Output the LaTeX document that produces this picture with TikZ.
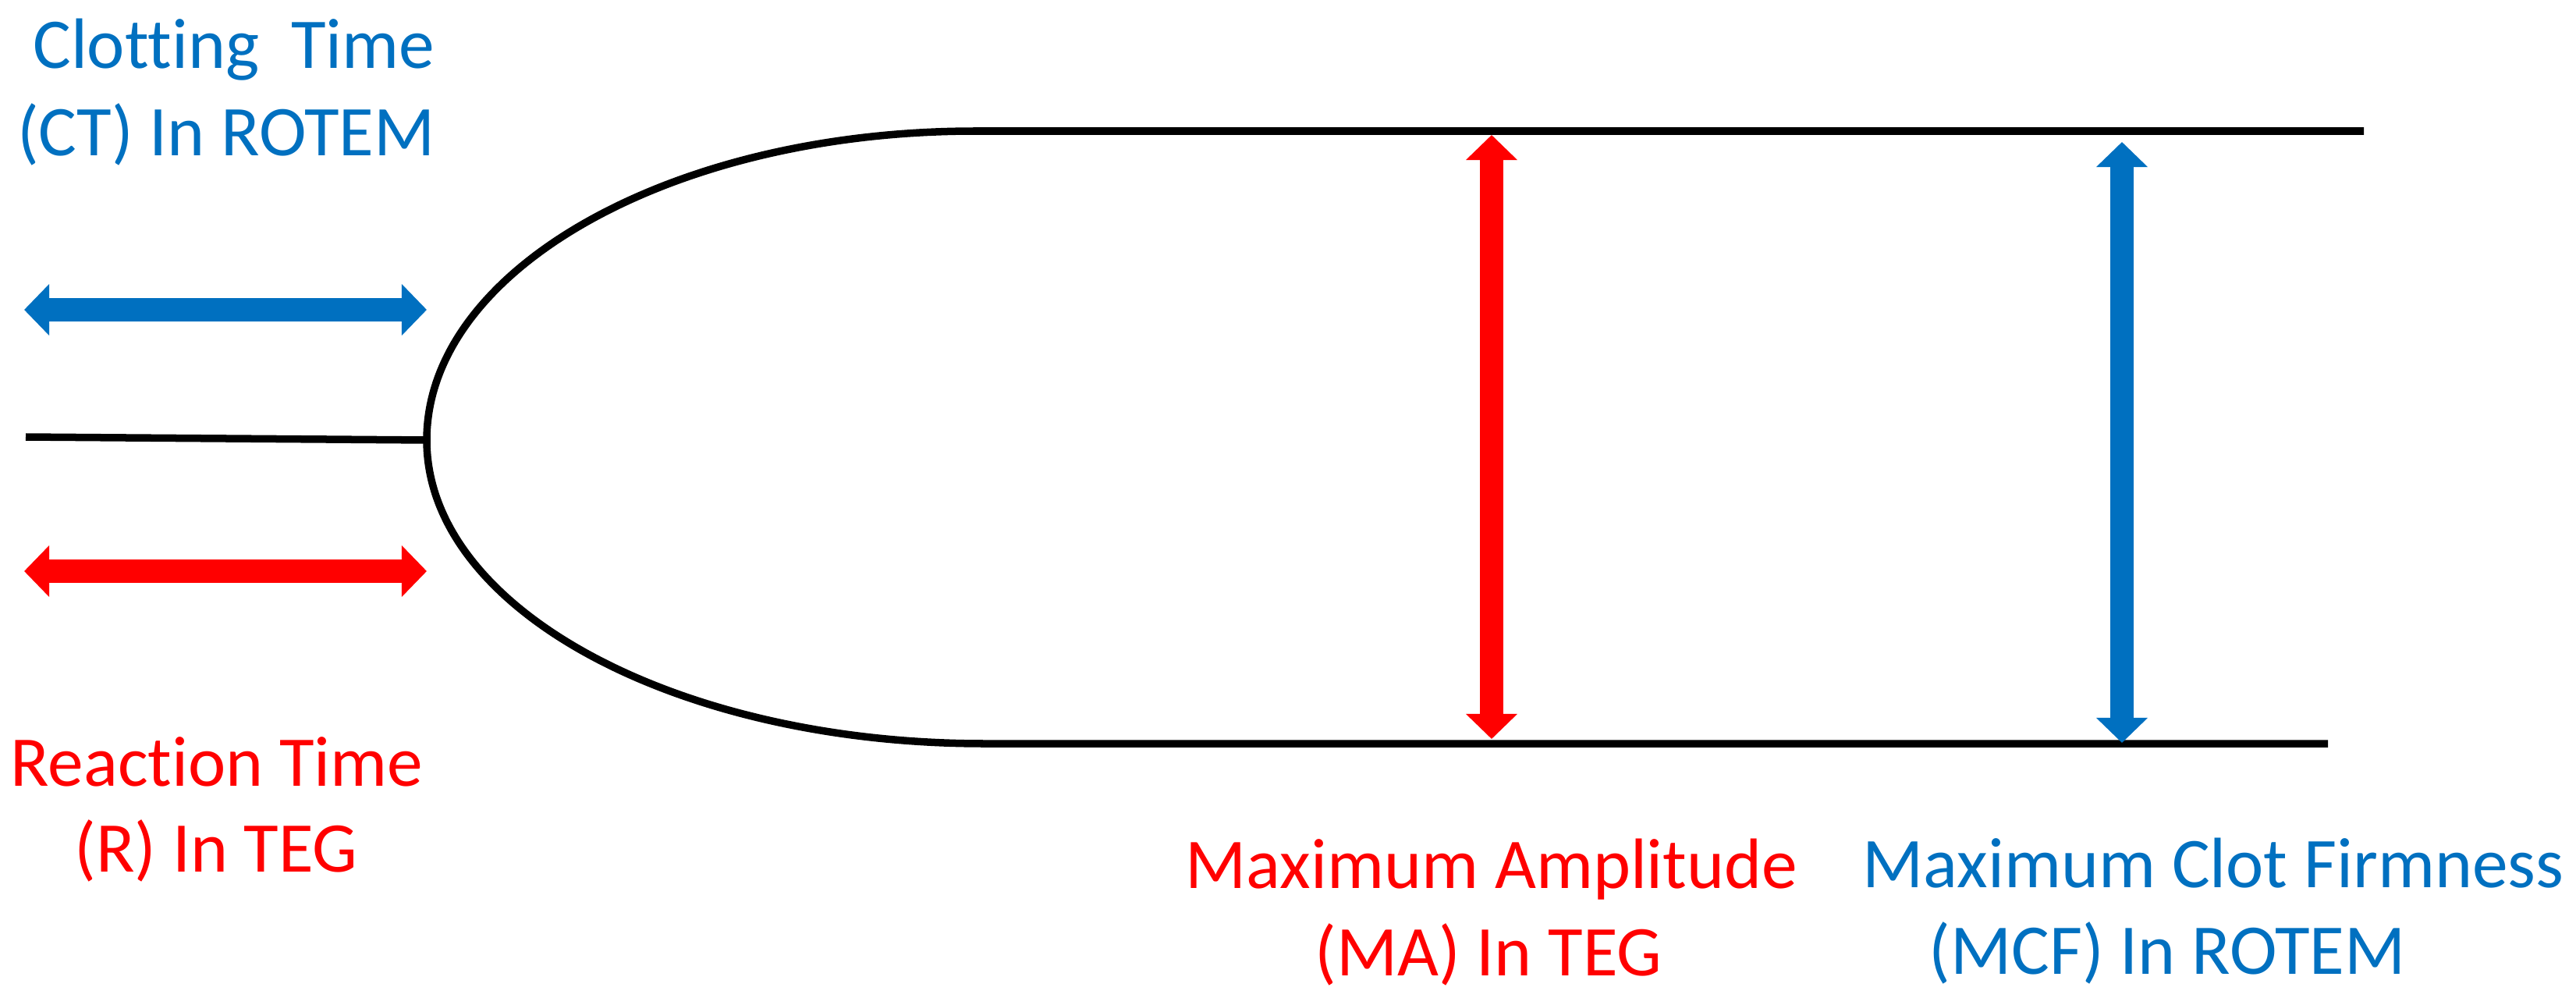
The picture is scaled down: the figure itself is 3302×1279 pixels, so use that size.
\documentclass[tikz,border=0pt]{standalone}
\usepackage{fontspec}
\setmainfont[Ligatures={NoCommon}]{Carlito}
\usetikzlibrary{arrows.meta}
\definecolor{tegred}{HTML}{FF0000}
\definecolor{rotblue}{HTML}{0070C0}
\tikzset{
  curveline/.style={line width=0.095cm, black},
  bigarrow/.style={line width=0.30cm,
    {Triangle[width=0.64cm,length=0.32cm]}-{Triangle[width=0.64cm,length=0.32cm]}},
  lbl/.style={anchor=base, inner sep=0pt, font=\fontsize{26pt}{31.9pt}\selectfont},
}
\begin{document}
\begin{tikzpicture}[x=0.01cm, y=-0.01cm]
\useasboundingbox (0,0) rectangle (3302,1279);
% key points
\coordinate (topEnd) at (3030,168);
\coordinate (topJoin) at (1250,168);
\coordinate (vertex) at (547,564);
\coordinate (botJoin) at (1262,953);
\coordinate (botEnd) at (2984,953);
\coordinate (midStart) at (33,560);
% trace
\draw[curveline] (topEnd) -- (topJoin)
  .. controls (862,168) and (547,345) .. (vertex)
  .. controls (547,781) and (868,953) .. (botJoin) -- (botEnd);
\draw[curveline] (midStart) -- (vertex);
% horizontal arrows
\coordinate (ctL) at (31,397);
\coordinate (ctR) at (547,397);
\coordinate (rL) at (31,732);
\coordinate (rR) at (547,732);
\draw[bigarrow, rotblue] (ctL) -- (ctR);
\draw[bigarrow, tegred] (rL) -- (rR);
% vertical arrows
\coordinate (maT) at (1912,173);
\coordinate (maB) at (1912,947);
\coordinate (mcfT) at (2720,182);
\coordinate (mcfB) at (2720,952);
\draw[bigarrow, tegred] (maT) -- (maB);
\draw[bigarrow, rotblue] (mcfT) -- (mcfB);
% labels
\node[lbl, text=rotblue] (ct1) at (300,88) {Clotting~~Time};
\node[lbl, text=rotblue] (ct2) at (290,200) {(CT) In ROTEM};
\node[lbl, text=tegred] (r1) at (278,1007) {Reaction Time};
\node[lbl, text=tegred] (r2) at (277,1117) {(R) In TEG};
\node[lbl, text=tegred] (ma1) at (1912,1138) {Maximum Amplitude};
\node[lbl, text=tegred] (ma2) at (1908,1250) {(MA) In TEG};
\node[lbl, text=rotblue] (mcf1) at (2837,1137) {Maximum Clot Firmness};
\node[lbl, text=rotblue] (mcf2) at (2778,1248) {(MCF) In ROTEM};
\end{tikzpicture}
\end{document}
